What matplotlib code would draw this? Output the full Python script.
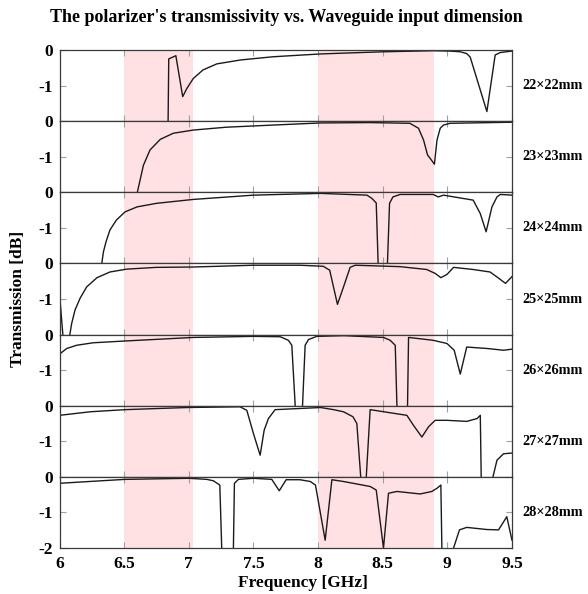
import matplotlib
matplotlib.use('Agg')
import matplotlib.pyplot as plt
import numpy as np

plt.rcParams['font.family'] = ['Liberation Serif', 'DejaVu Serif']
plt.rcParams['font.weight'] = 'bold'

# frequency [GHz] / transmission [dB] per waveguide size
f22 = [6.840, 6.845, 6.90, 6.953, 6.985, 7.035, 7.11, 7.217, 7.40, 7.65, 8.02, 8.5, 8.89, 9.02, 9.10, 9.15, 9.177, 9.306, 9.37, 9.41, 9.5]
t22 = [-2.0, -0.25, -0.16, -1.31, -1.08, -0.80, -0.56, -0.39, -0.28, -0.19, -0.11, -0.05, -0.02, -0.03, -0.05, -0.10, -0.20, -1.73, -0.14, -0.07, -0.03]

f23 = [6.602, 6.623, 6.649, 6.70, 6.78, 6.88, 7.035, 7.29, 7.65, 8.02, 8.4, 8.71, 8.777, 8.816, 8.847, 8.868, 8.90, 8.92, 8.945, 8.97, 9.02, 9.5]
t23 = [-2.0, -1.66, -1.24, -0.81, -0.51, -0.34, -0.25, -0.17, -0.11, -0.05, -0.04, -0.06, -0.2, -0.53, -0.95, -1.05, -1.21, -0.53, -0.2, -0.11, -0.06, -0.03]

f24 = [6.327, 6.34, 6.36, 6.39, 6.44, 6.507, 6.60, 6.75, 7.035, 7.50, 8.02, 8.378, 8.416, 8.45, 8.469, 8.532, 8.553, 8.579, 8.635, 8.89, 8.93, 8.97, 9.20, 9.255, 9.30, 9.345, 9.384, 9.41, 9.5]
t24 = [-2.0, -1.67, -1.39, -1.06, -0.78, -0.55, -0.41, -0.31, -0.2, -0.08, -0.03, -0.08, -0.17, -0.3, -2.5, -2.5, -0.31, -0.13, -0.06, -0.06, -0.13, -0.08, -0.22, -0.6, -1.11, -0.41, -0.13, -0.06, -0.08]

f25 = [6.0, 6.037, 6.057, 6.094, 6.12, 6.159, 6.21, 6.29, 6.39, 6.52, 6.75, 7.035, 7.50, 7.86, 8.04, 8.09, 8.15, 8.197, 8.248, 8.287, 8.635, 8.84, 8.906, 8.95, 8.997, 9.048, 9.20, 9.33, 9.384, 9.45, 9.5]
t25 = [-0.84, -2.5, -2.5, -1.69, -1.31, -0.98, -0.66, -0.4, -0.24, -0.16, -0.11, -0.1, -0.05, -0.05, -0.08, -0.19, -1.15, -0.66, -0.11, -0.05, -0.09, -0.17, -0.28, -0.4, -0.31, -0.11, -0.17, -0.24, -0.38, -0.56, -0.37]

f26 = [6.0, 6.056, 6.133, 6.26, 6.507, 7.035, 7.50, 7.707, 7.77, 7.797, 7.831, 7.874, 7.90, 7.926, 7.99, 8.2, 8.506, 8.558, 8.597, 8.614, 8.690, 8.70, 8.89, 8.997, 9.053, 9.10, 9.15, 9.306, 9.435, 9.5]
t26 = [-0.55, -0.39, -0.3, -0.23, -0.18, -0.08, -0.05, -0.06, -0.16, -0.3, -2.5, -2.5, -0.3, -0.14, -0.05, -0.03, -0.08, -0.16, -0.3, -2.5, -2.5, -0.08, -0.16, -0.25, -0.44, -1.11, -0.35, -0.39, -0.44, -0.41]

f27 = [6.0, 6.236, 6.507, 6.985, 7.397, 7.449, 7.50, 7.552, 7.583, 7.616, 7.668, 8.02, 8.12, 8.197, 8.27, 8.30, 8.34, 8.365, 8.403, 8.687, 8.738, 8.803, 8.855, 8.906, 8.997, 9.15, 9.23, 9.255, 9.264, 9.32, 9.384, 9.435, 9.5]
t27 = [-0.27, -0.17, -0.11, -0.05, -0.03, -0.13, -0.78, -1.39, -0.69, -0.36, -0.11, -0.05, -0.11, -0.17, -0.31, -0.5, -2.5, -2.5, -0.11, -0.27, -0.55, -0.88, -0.59, -0.41, -0.41, -0.44, -0.36, -0.27, -2.5, -2.5, -1.53, -1.35, -1.33]

f28 = [6.0, 6.507, 7.0, 7.14, 7.19, 7.24, 7.259, 7.343, 7.353, 7.384, 7.50, 7.642, 7.70, 7.753, 7.86, 7.94, 7.98, 8.055, 8.107, 8.197, 8.403, 8.45, 8.506, 8.545, 8.61, 8.79, 8.88, 8.92, 8.95, 8.96, 9.003, 9.094, 9.15, 9.306, 9.396, 9.46, 9.5]
t28 = [-0.18, -0.07, -0.04, -0.07, -0.11, -0.23, -2.5, -2.5, -0.18, -0.07, -0.04, -0.07, -0.39, -0.08, -0.08, -0.13, -0.23, -1.78, -0.08, -0.13, -0.27, -0.37, -2.0, -0.46, -0.41, -0.48, -0.41, -0.32, -0.23, -2.5, -2.5, -1.49, -1.42, -1.48, -1.49, -1.12, -1.78]

sizes = ['22\u00d722mm', '23\u00d723mm', '24\u00d724mm', '25\u00d725mm', '26\u00d726mm', '27\u00d727mm', '28\u00d728mm']
freqs = [f22, f23, f24, f25, f26, f27, f28]
trans = [t22, t23, t24, t25, t26, t27, t28]

bands = [(6.5, 7.03), (8.0, 8.9)]
xticks = [6, 6.5, 7, 7.5, 8, 8.5, 9, 9.5]

fig = plt.figure(figsize=(5.88, 5.94), dpi=100)
axs = fig.subplots(7, 1, sharex=True, gridspec_kw=dict(hspace=0))
fig.subplots_adjust(left=0.1012, right=0.8707, top=0.9158, bottom=0.0774)

for i, ax in enumerate(axs):
    for b in bands:
        ax.axvspan(b[0], b[1], color='#ffe1e4', lw=0, zorder=0)
    ax.plot(freqs[i], trans[i], color='#1a1a1a', lw=1.0)
    ax.set_xlim(6, 9.5)
    ax.set_ylim(-2, 0)
    if i == 6:
        ax.set_yticks([0, -1, -2])
        ax.set_yticklabels(['0', '-1', '-2'])
    else:
        ax.set_yticks([0, -1])
        ax.set_yticklabels(['0', '-1'])
    ax.set_xticks(xticks)
    ax.set_xticklabels(['6', '6.5', '7', '7.5', '8', '8.5', '9', '9.5'])
    ax.tick_params(direction='in', top=True, right=True, length=4, width=0.8,
                   color='#a0a0a0', labelsize=12.5, pad=5)
    for s in ax.spines.values():
        s.set_color('#3a3a3a')
        s.set_linewidth(0.9)
    ax.text(1.022, 0.5, sizes[i], transform=ax.transAxes, va='center', ha='left',
            fontsize=10.3, fontweight='bold')

axs[-1].tick_params(axis='x', pad=6)

fig.text(0.487, 0.970, "The polarizer's transmissivity vs. Waveguide input dimension",
         ha='center', va='center', fontsize=13, fontweight='bold')
fig.text(0.516, 0.0185, 'Frequency [GHz]', ha='center', va='center', fontsize=12.5, fontweight='bold')
fig.text(0.031, 0.497, 'Transmission [dB]', ha='center', va='center', rotation=90,
         fontsize=12.5, fontweight='bold')

fig.savefig('out.png', dpi=100)
